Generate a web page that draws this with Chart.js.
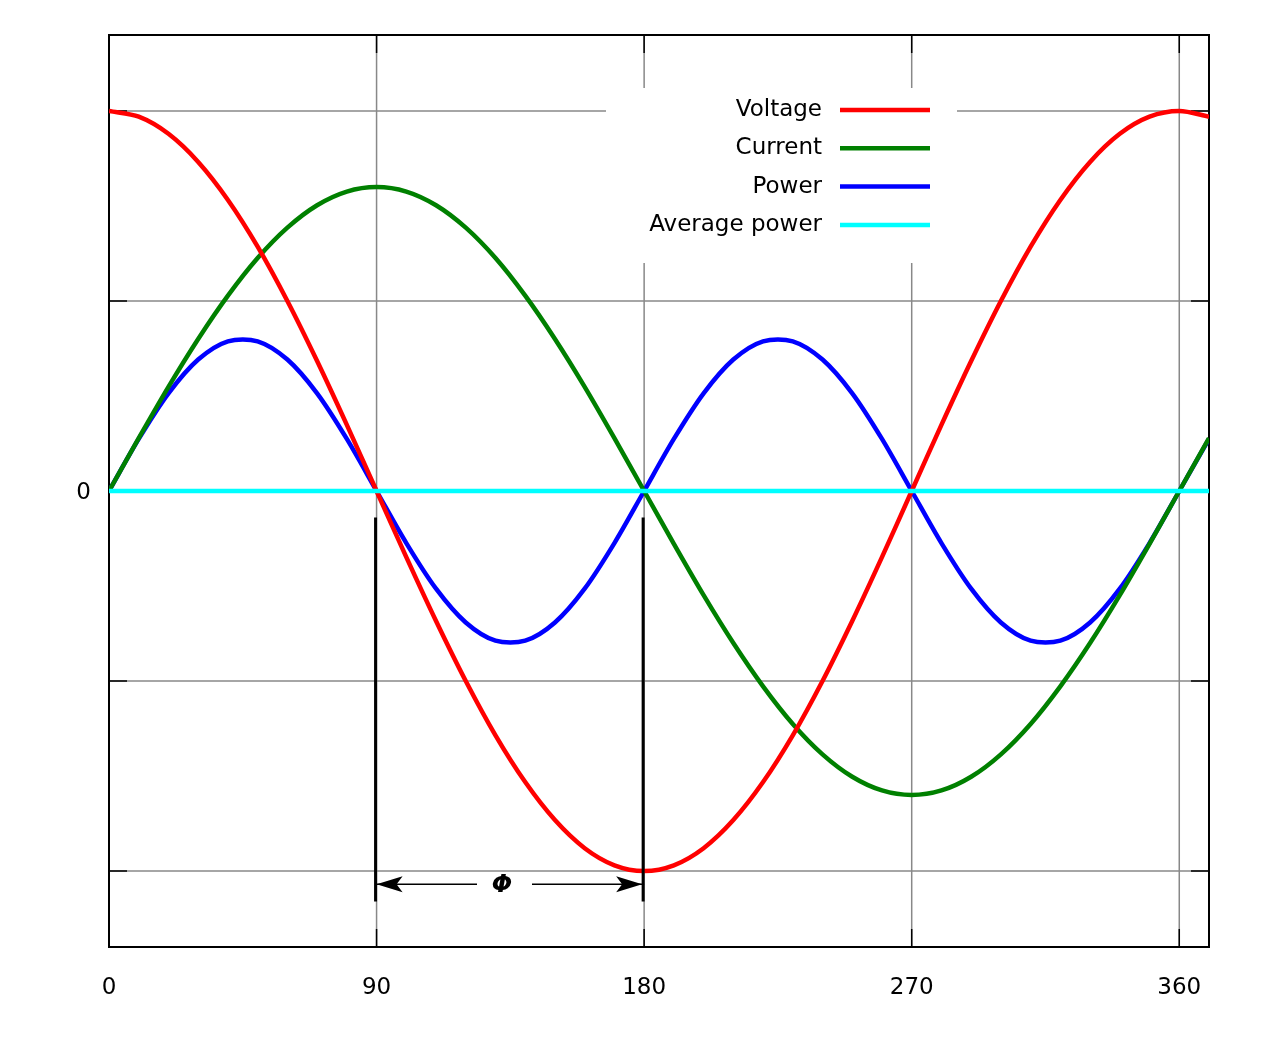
<!DOCTYPE html>
<html><head><meta charset="utf-8">
<script src="https://cdn.jsdelivr.net/npm/chart.js@4"></script>
<style>html,body{margin:0;padding:0;background:#fff}#w{width:1280px;height:1054px}</style>
</head><body><div id="w"><canvas id="c"></canvas></div>
<script>
const degrees=[0,10,20,30,40,50,60,70,80,90,100,110,120,130,140,150,160,170,180,190,200,210,220,230,240,250,260,270,280,290,300,310,320,330,340,350,360,370];
const voltage=[1,.985,.94,.866,.766,.643,.5,.342,.174,0,-.174,-.342,-.5,-.643,-.766,-.866,-.94,-.985,-1,-.985,-.94,-.866,-.766,-.643,-.5,-.342,-.174,0,.174,.342,.5,.643,.766,.866,.94,.985,1,.985];
const current=[0,.139,.274,.4,.514,.613,.693,.752,.788,.8,.788,.752,.693,.613,.514,.4,.274,.139,0,-.139,-.274,-.4,-.514,-.613,-.693,-.752,-.788,-.8,-.788,-.752,-.693,-.613,-.514,-.4,-.274,-.139,0,.139];
const power=[0,.137,.257,.346,.394,.394,.346,.257,.137,0,-.137,-.257,-.346,-.394,-.394,-.346,-.257,-.137,0,.137,.257,.346,.394,.394,.346,.257,.137,0,-.137,-.257,-.346,-.394,-.394,-.346,-.257,-.137,0,.137];
const avgPower=[0,0];
const avgX=[0,370];
const xTicks=[0,90,180,270,360];
const yGrid=[-1,-0.5,0.5,1];
const yLabels=[0];
const names=['Voltage','Current','Power','Average power'];
const colors=['#ff0000','#008000','#0000ff','#00ffff'];
const F='"DejaVu Sans", sans-serif';
const pts=a=>a.map((v,i)=>({x:degrees[i],y:v}));
const ds=[pts(voltage),pts(current),pts(power),avgPower.map((v,i)=>({x:avgX[i],y:v}))];

const deco={id:'deco',
beforeDatasetsDraw(ch){const c=ch.ctx,a=ch.chartArea,x=ch.scales.x,y=ch.scales.y;c.save();
 c.strokeStyle='#888';c.lineWidth=1.5;
 xTicks.slice(1).forEach(t=>{const p=x.getPixelForValue(t);c.beginPath();c.moveTo(p,a.top);c.lineTo(p,a.bottom);c.stroke();});
 yGrid.forEach(t=>{const p=y.getPixelForValue(t);c.beginPath();c.moveTo(a.left,p);c.lineTo(a.right,p);c.stroke();});
 c.fillStyle='#fff';c.fillRect(606,88,351,175);
 c.strokeStyle='#000';c.lineWidth=1.5;
 xTicks.forEach(t=>{const p=x.getPixelForValue(t);c.beginPath();c.moveTo(p,a.top);c.lineTo(p,a.top+18);c.moveTo(p,a.bottom);c.lineTo(p,a.bottom-18);c.stroke();});
 yGrid.concat([0]).forEach(t=>{const p=y.getPixelForValue(t);c.beginPath();c.moveTo(a.left,p);c.lineTo(a.left+18,p);c.moveTo(a.right,p);c.lineTo(a.right-18,p);c.stroke();});
 c.lineWidth=2;c.strokeRect(a.left,a.top,a.right-a.left,a.bottom-a.top);
 c.fillStyle='#000';c.font='23px '+F;c.textAlign='center';c.textBaseline='middle';
 xTicks.forEach(t=>c.fillText(String(t),x.getPixelForValue(t),a.bottom+41));
 c.textAlign='right';yLabels.forEach(t=>c.fillText(String(t),a.left-18,y.getPixelForValue(t)+2));
 names.forEach((n,i)=>{const yy=110+i*38.3;c.fillStyle='#000';c.fillText(n,822,yy);c.strokeStyle=colors[i];c.lineWidth=4.5;c.beginPath();c.moveTo(840,yy);c.lineTo(930,yy);c.stroke();});
 c.restore();},
afterDatasetsDraw(ch){const c=ch.ctx,x=ch.scales.x,y=ch.scales.y;c.save();
 const x1=x.getPixelForValue(90),x2=x.getPixelForValue(180),t=y.getPixelForValue(-0.07),b=y.getPixelForValue(-1.08),ay=y.getPixelForValue(-1.035);
 c.strokeStyle='#000';c.lineWidth=3;
 [x1,x2].forEach(p=>{c.beginPath();c.moveTo(p-1,t);c.lineTo(p-1,b);c.stroke();});
 c.lineWidth=1.5;c.beginPath();c.moveTo(x1,ay);c.lineTo(477,ay);c.moveTo(532,ay);c.lineTo(x2,ay);c.stroke();
 c.fillStyle='#000';
 c.beginPath();c.moveTo(x1,ay);c.lineTo(x1+26,ay-8);c.lineTo(x1+20,ay);c.lineTo(x1+26,ay+8);c.closePath();c.fill();
 c.beginPath();c.moveTo(x2-2,ay);c.lineTo(x2-28,ay-8);c.lineTo(x2-22,ay);c.lineTo(x2-28,ay+8);c.closePath();c.fill();
 c.font='italic bold 24px '+F;c.textAlign='center';c.textBaseline='middle';c.fillText('Φ',502,ay+1);
 c.restore();}};

new Chart(document.getElementById('c'),{type:'line',
data:{datasets:ds.map((d,i)=>({label:names[i],data:d,borderColor:colors[i],borderWidth:4.5,pointRadius:0,tension:0.3,fill:false,order:i===3?0:1}))},
options:{responsive:true,maintainAspectRatio:false,animation:false,
 layout:{padding:{left:109,right:71,top:35,bottom:107}},
 plugins:{legend:{display:false},tooltip:{enabled:false}},
 scales:{x:{type:'linear',min:0,max:370,display:false},y:{min:-1.2,max:1.2,display:false}}},
plugins:[deco]});
</script></body></html>
